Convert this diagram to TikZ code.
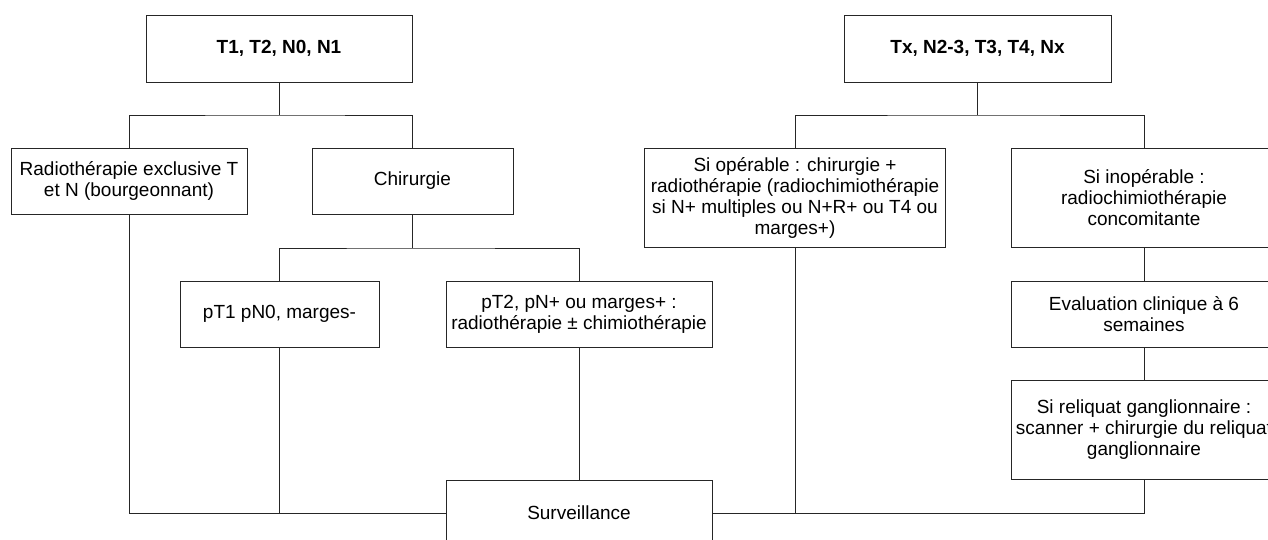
\documentclass[tikz,border=0pt]{standalone}
\usepackage{fontspec}
\setmainfont{Liberation Sans}
\tikzset{
  box/.style={draw=black!85, line width=0.8pt, fill=white, inner sep=0pt, align=center,
    font=\fontsize{19}{21}\selectfont, anchor=center},
  link/.style={draw=black!85, line width=0.8pt}
}
\begin{document}
\begin{tikzpicture}[x=1pt,y=-1pt]
\useasboundingbox (0,0) rectangle (1268,540);
\clip (0,0) rectangle (1268,540);
\fill[white] (0,0) rectangle (1268,540);
% nodes
\node[box, minimum width=266pt, minimum height=67pt, font=\fontsize{19}{21}\selectfont\bfseries] (t1) at (279,48.5) {T1, T2, N0, N1};
\node[box, minimum width=267pt, minimum height=67pt, font=\fontsize{19}{21}\selectfont\bfseries] (tx) at (977.5,48.5) {Tx, N2-3, T3, T4, Nx};
\node[box, minimum width=236pt, minimum height=66pt] (radio) at (129,181) {Radiothérapie exclusive T\\et N (bourgeonnant)};
\node[box, minimum width=201pt, minimum height=66pt] (chir) at (412.5,181) {Chirurgie};
\node[box, minimum width=199pt, minimum height=66pt] (pt1) at (279.5,314) {pT1 pN0, marges-};
\node[box, minimum width=266pt, minimum height=66pt] (pt2) at (579,314) {pT2, pN+ ou marges+ :\\radiothérapie ± chimiothérapie};
\node[box, minimum width=266pt, minimum height=66pt] (surv) at (579,513) {Surveillance};
\node[box, minimum width=301pt, minimum height=99pt] (op) at (795,197.5) {Si opérable : chirurgie +\\radiothérapie (radiochimiothérapie\\si N+ multiples ou N+R+ ou T4 ou\\marges+)};
\node[box, minimum width=266pt, minimum height=99pt] (inop) at (1144,197.5) {Si inopérable :\\radiochimiothérapie\\concomitante};
\node[box, minimum width=266pt, minimum height=66pt] (eval) at (1144,314) {Evaluation clinique à 6\\semaines};
\node[box, minimum width=266pt, minimum height=99pt] (reliq) at (1144,429.5) {Si reliquat ganglionnaire :\\scanner + chirurgie du reliquat\\ganglionnaire};
% junctions
\coordinate (b1) at (279,115);
\coordinate (b2) at (412.5,248);
\coordinate (b3) at (977.5,115);
% connectors
\draw[link] (t1.south) -- (b1);
\draw[link] (radio.north) |- (b1) -| (chir.north);
\draw[link] (chir.south) -- (b2);
\draw[link] (pt1.north) |- (b2) -| (pt2.north);
\draw[link] (tx.south) -- (b3);
\draw[link] (op.north) |- (b3) -| (inop.north);
\draw[link] (inop.south) -- (eval.north);
\draw[link] (eval.south) -- (reliq.north);
\draw[link] (radio.south) |- (surv.west);
\draw[link] (pt1.south) -- (pt1.south |- surv.west);
\draw[link] (pt2.south) -- (surv.north);
\draw[link] (surv.east) -| (reliq.south);
\draw[link] (op.south) -- (op.south |- surv.east);
\end{tikzpicture}
\end{document}
